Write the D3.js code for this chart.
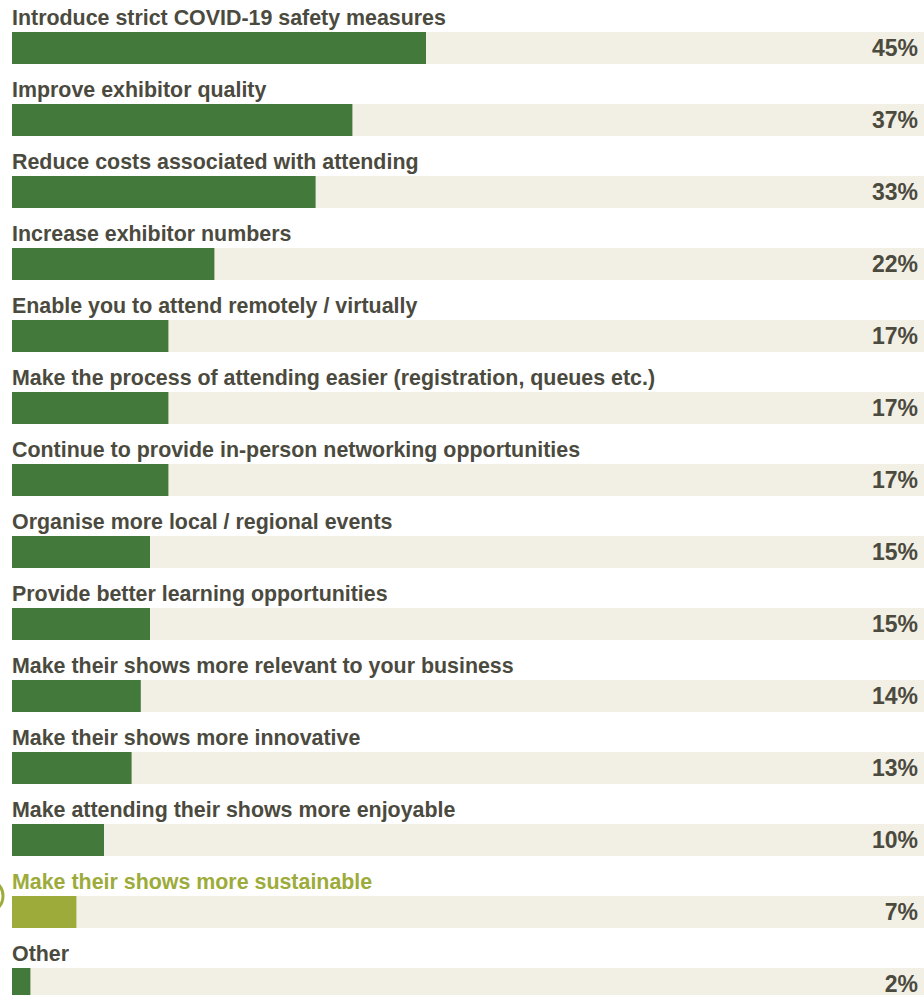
<!DOCTYPE html>
<html>
<head>
<meta charset="utf-8">
<script src="https://cdn.jsdelivr.net/npm/d3@7/dist/d3.min.js"></script>
<style>
  html, body { margin: 0; padding: 0; background: #fff; }
  svg { display: block; }
  text { font-family: "Liberation Sans", Arial, sans-serif; font-weight: bold; }
</style>
</head>
<body>
<svg id="chart" width="924" height="995"></svg>
<script>
// Survey answers, in the order shown
const categories = [
  "Introduce strict COVID-19 safety measures",
  "Improve exhibitor quality",
  "Reduce costs associated with attending",
  "Increase exhibitor numbers",
  "Enable you to attend remotely / virtually",
  "Make the process of attending easier (registration, queues etc.)",
  "Continue to provide in-person networking opportunities",
  "Organise more local / regional events",
  "Provide better learning opportunities",
  "Make their shows more relevant to your business",
  "Make their shows more innovative",
  "Make attending their shows more enjoyable",
  "Make their shows more sustainable",
  "Other"
];
const values = [45, 37, 33, 22, 17, 17, 17, 15, 15, 14, 13, 10, 7, 2];
const highlighted = ["Make their shows more sustainable"];

const W = 924, H = 995;
const svg = d3.select("#chart");

const x = d3.scaleLinear().domain([0, 100]).range([12, 932]);
const row = d3.scaleBand().domain(categories).range([0, categories.length * 72]);

const green = "#437a3b", olive = "#9cab3a", track = "#f2efe4", ink = "#4b4a3e";

const g = svg.selectAll("g.row").data(categories).join("g")
  .attr("class", "row")
  .attr("transform", d => `translate(0,${row(d)})`);

// background track
g.append("rect")
  .attr("x", x(0)).attr("y", 32)
  .attr("width", W - x(0)).attr("height", 32)
  .attr("fill", track);

// value bar
g.append("rect")
  .attr("x", x(0)).attr("y", 32)
  .attr("width", (d, i) => x(values[i]) - x(0)).attr("height", 32)
  .attr("fill", d => highlighted.includes(d) ? olive : green);

// category label
g.append("text")
  .attr("x", 12).attr("y", 24.5)
  .attr("font-size", 21.4)
  .attr("fill", d => highlighted.includes(d) ? olive : ink)
  .text(d => d);

// percentage label
g.append("text")
  .attr("x", 918).attr("y", 56)
  .attr("text-anchor", "end")
  .attr("font-size", 23)
  .attr("fill", ink)
  .text((d, i) => values[i] + "%");

// marker ring beside the highlighted answer
highlighted.forEach(h => {
  svg.append("circle")
    .attr("cx", -14).attr("cy", row(h) + 32)
    .attr("r", 17)
    .attr("fill", "none")
    .attr("stroke", olive)
    .attr("stroke-width", 3);
});
</script>
</body>
</html>
